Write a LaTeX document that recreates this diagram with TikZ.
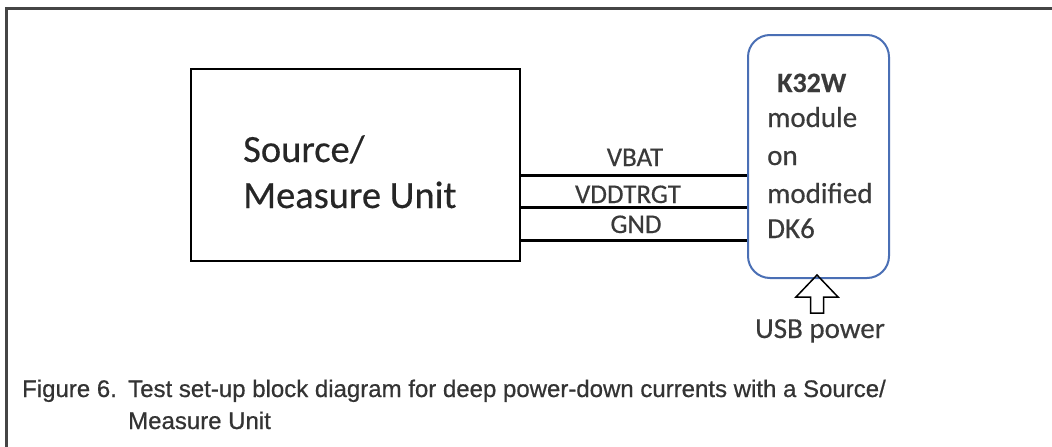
\documentclass[tikz,border=0pt]{standalone}
\usepackage{fontspec}
\setmainfont{Carlito}[FakeBold=0.4]
\newfontfamily\kfont{Carlito}[FakeBold=0.4]
\newfontfamily\capfont{Liberation Sans}[FakeBold=0.6]
\definecolor{frameC}{HTML}{454545}
\definecolor{txtC}{HTML}{3A3A3A}
\definecolor{capC}{HTML}{333333}
\definecolor{blueC}{HTML}{4A6FB5}
\tikzset{
  lbl/.style={anchor=base west, inner sep=0pt, text=txtC},
  wire/.style={line width=3pt, black},
  captxt/.style={anchor=base west, inner sep=0pt, text=capC, font=\capfont\fontsize{24}{28}\selectfont},
}
\begin{document}
\begin{tikzpicture}[x=1pt,y=-1pt]
\useasboundingbox (0,0) rectangle (1052,447);
\fill[white] (0,0) rectangle (1052,447);
% frame
\draw[frameC, line width=3pt] (6.5,447) -- (6.5,8.5) -- (1052,8.5);
% source/measure unit box
\node[draw, line width=2pt, minimum width=329pt, minimum height=192pt, anchor=north west, inner sep=0pt] (smu) at (190,68) {};
\node[lbl, font=\fontsize{38.5}{46}\selectfont, text=black!85] (s1) at (243,162) {Source/};
\node[lbl, font=\fontsize{38.5}{46}\selectfont, text=black!85] (s2) at (243,208) {Measure Unit};
% DUT box
\node[draw=blueC, line width=2pt, rounded corners=22pt, minimum width=141pt, minimum height=243pt, anchor=north west, inner sep=0pt] (dut) at (747,34) {};
\node[lbl, font=\bfseries\fontsize{28}{34}\selectfont] (k1) at (777,92) {K32W};
\node[lbl, font=\fontsize{29}{34}\selectfont] (k2) at (767,127) {module};
\node[lbl, font=\fontsize{29}{34}\selectfont] (k3) at (767,165) {on};
\node[lbl, font=\fontsize{29}{34}\selectfont] (k4) at (767,203) {modified};
\node[lbl, font=\fontsize{29}{34}\selectfont] (k5) at (767,238) {DK6};
% wires
\coordinate (w1) at (0,175);
\coordinate (w2) at (0,207.5);
\coordinate (w3) at (0,240);
\draw[wire] (smu.east |- w1) -- (dut.west |- w1);
\draw[wire] (smu.east |- w2) -- (dut.west |- w2);
\draw[wire] (smu.east |- w3) -- (dut.west |- w3);
\node[anchor=base, inner sep=0pt, text=txtC, font=\fontsize{27}{32}\selectfont] (vbat) at (635,166) {VBAT};
\node[anchor=base, inner sep=0pt, text=txtC, font=\fontsize{27}{32}\selectfont] (vdd) at (628,203) {VDDTRGT};
\node[anchor=base, inner sep=0pt, text=txtC, font=\fontsize{27}{32}\selectfont] (gnd) at (636,233) {GND};
% USB power arrow
\coordinate (tip) at (817,275);
\draw[line width=1.5pt, line join=miter] (tip) -- (838,297) -- (823.5,297) -- (823.5,313) -- (810.5,313) -- (810.5,297) -- (796,297) -- cycle;
\node[anchor=base, inner sep=0pt, text=txtC, font=\fontsize{29}{34}\selectfont] (usb) at (820,338) {USB power};
% caption
\node[captxt] (c1) at (22,397) {Figure 6.};
\node[captxt] (c2) at (128,397) {Test set-up block diagram for deep power-down currents with a Source/};
\node[captxt] (c3) at (128,429) {Measure Unit};
\end{tikzpicture}
\end{document}
